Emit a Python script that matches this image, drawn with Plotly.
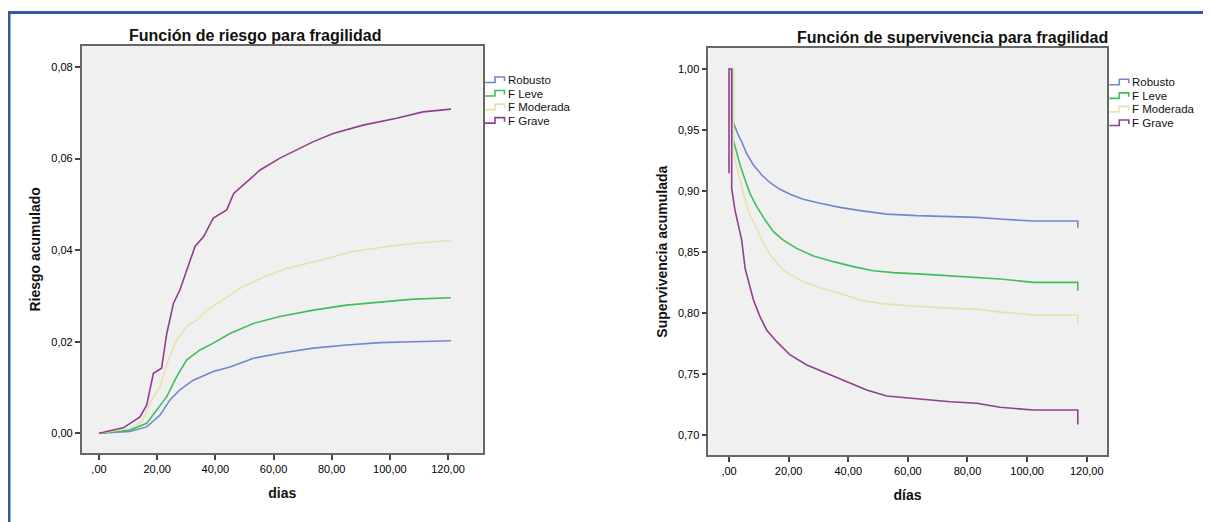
import plotly.graph_objects as go

series_names = ["Robusto", "F Leve", "F Moderada", "F Grave"]
series_colors = ["#7186CC", "#3FBF5C", "#E8E0AE", "#8E3F8E"]

# ---- Left: cumulative hazard ----
risk_days = {
    "Robusto": [0, 10.6, 16.4, 21.0, 24.4, 27.8, 32.4, 39.3, 45.0, 53.1, 62.2, 73.7, 85.1, 96.6, 108.0, 121.0],
    "F Leve": [0, 10.6, 16.4, 19.8, 23.3, 26.7, 30.1, 34.7, 39.3, 45.0, 53.1, 62.2, 73.7, 85.1, 96.6, 108.0, 121.0],
    "F Moderada": [0, 10.6, 14.7, 18.1, 21.0, 23.8, 26.7, 30.1, 33.6, 37.0, 41.6, 48.5, 55.4, 64.5, 76.0, 87.4, 98.9, 110.3, 121.0],
    "F Grave": [0, 8.35, 14.1, 16.4, 18.7, 21.5, 23.3, 25.6, 27.8, 30.1, 33.0, 35.9, 39.3, 43.9, 46.3, 50.8, 55.4, 62.2, 68.0, 73.7, 80.5, 90.8, 102.3, 111.4, 121.0],
}
risk_values = {
    "Robusto": [0, 0.0004, 0.0014, 0.0040, 0.0073, 0.0095, 0.0116, 0.0135, 0.0145, 0.0164, 0.0175, 0.0186, 0.0193, 0.0198, 0.0200, 0.0202],
    "F Leve": [0, 0.0007, 0.0022, 0.0051, 0.0080, 0.0124, 0.0160, 0.0182, 0.0197, 0.0218, 0.0240, 0.0255, 0.0269, 0.0280, 0.0287, 0.0293, 0.0296],
    "F Moderada": [0, 0.0011, 0.0025, 0.0073, 0.0102, 0.0160, 0.0204, 0.0233, 0.0247, 0.0269, 0.0287, 0.0317, 0.0338, 0.0360, 0.0378, 0.0397, 0.0408, 0.0416, 0.0421],
    "F Grave": [0, 0.0012, 0.0036, 0.0062, 0.0131, 0.0142, 0.0218, 0.0284, 0.0313, 0.0357, 0.0408, 0.0429, 0.0470, 0.0488, 0.0524, 0.0549, 0.0575, 0.0601, 0.0619, 0.0637, 0.0655, 0.0673, 0.0688, 0.0702, 0.0708],
}

# ---- Right: survival ----
surv_days = {
    "Robusto": [0, 0.9, 0.9, 2.0, 3.1, 4.25, 5.9, 8.2, 11.0, 13.8, 17.1, 20.5, 24.9, 30.5, 37.2, 44.0, 52.9, 63.0, 75.3, 83.1, 92.1, 102.1, 117.0, 117.0],
    "F Leve": [0, 1.45, 1.45, 2.6, 3.7, 5.4, 7.0, 9.3, 12.1, 14.9, 18.2, 22.7, 28.3, 35.0, 41.7, 48.4, 55.1, 66.3, 79.8, 90.9, 102.1, 117.0, 117.0],
    "F Moderada": [0, 1.45, 1.45, 2.6, 3.7, 5.4, 7.0, 9.3, 11.5, 14.3, 18.2, 23.8, 29.4, 37.2, 44.0, 50.7, 59.6, 70.8, 83.1, 92.1, 102.1, 117.0, 117.0],
    "F Grave": [0, 0, 0.9, 0.9, 2.0, 3.1, 4.25, 5.4, 6.5, 8.2, 10.4, 12.6, 16.0, 20.5, 26.1, 32.8, 39.5, 46.2, 52.9, 63.0, 74.2, 83.1, 90.9, 102.1, 117.0, 117.0],
}
surv_values = {
    "Robusto": [1.0, 1.0, 0.9596, 0.9527, 0.9459, 0.9404, 0.9309, 0.9213, 0.9131, 0.9068, 0.9014, 0.8973, 0.8932, 0.8899, 0.8866, 0.8839, 0.8811, 0.8798, 0.8790, 0.8784, 0.8768, 0.8754, 0.8754, 0.8699],
    "F Leve": [1.0, 1.0, 0.9418, 0.9309, 0.9213, 0.9090, 0.8981, 0.8872, 0.8762, 0.8667, 0.8598, 0.8530, 0.8467, 0.8421, 0.8380, 0.8347, 0.8331, 0.8317, 0.8298, 0.8279, 0.8251, 0.8251, 0.8183],
    "F Moderada": [1.0, 1.0, 0.9309, 0.9186, 0.9090, 0.8926, 0.8803, 0.8694, 0.8571, 0.8462, 0.8352, 0.8270, 0.8216, 0.8161, 0.8107, 0.8079, 0.8060, 0.8044, 0.8030, 0.8005, 0.7984, 0.7984, 0.7902],
    "F Grave": [0.9145, 1.0, 1.0, 0.9022, 0.8844, 0.8721, 0.8598, 0.8366, 0.8270, 0.8107, 0.7970, 0.7861, 0.7765, 0.7656, 0.7574, 0.7505, 0.7437, 0.7369, 0.7320, 0.7295, 0.7273, 0.7260, 0.7227, 0.7205, 0.7205, 0.7087],
}

risk_ticks = [0, 0.02, 0.04, 0.06, 0.08]
risk_ticktext = ["0,00", "0,02", "0,04", "0,06", "0,08"]
surv_ticks = [0.70, 0.75, 0.80, 0.85, 0.90, 0.95, 1.00]
surv_ticktext = ["0,70", "0,75", "0,80", "0,85", "0,90", "0,95", "1,00"]
day_ticks = [0, 20, 40, 60, 80, 100, 120]
day_ticktext = [",00", "20,00", "40,00", "60,00", "80,00", "100,00", "120,00"]

# page body has an 8px margin: figure sized to fill the rest of the window
OFF = 8
W, H = 1211 - OFF, 522 - OFF
FONT = "Liberation Sans, Arial, sans-serif"


def px_x(p):
    return (p - OFF) / W


def px_y(p):
    return 1 - (p - OFF) / H


fig = go.Figure()
for name, col in zip(series_names, series_colors):
    fig.add_trace(go.Scatter(x=risk_days[name], y=risk_values[name], mode="lines", name=name,
                             line=dict(color=col, width=1.6), xaxis="x", yaxis="y", showlegend=False))
for name, col in zip(series_names, series_colors):
    fig.add_trace(go.Scatter(x=surv_days[name], y=surv_values[name], mode="lines", name=name,
                             line=dict(color=col, width=1.6), xaxis="x2", yaxis="y2", showlegend=False))

axis_common = dict(showgrid=False, zeroline=False, showline=True, linecolor="#666666", linewidth=1.5,
                   mirror=True, ticks="outside", ticklen=5, tickwidth=1.5, tickcolor="#444444",
                   tickfont=dict(family=FONT, size=11, color="#000000"))

fig.update_layout(
    width=W, height=H,
    margin=dict(l=0, r=0, t=0, b=0),
    paper_bgcolor="white", plot_bgcolor="#F0F0F0",
    font=dict(family=FONT, color="#111111"),
    xaxis=dict(domain=[px_x(81.7), px_x(482.7)], range=[-5.95, 131.9], tickvals=day_ticks,
               ticktext=day_ticktext, anchor="y",
               title=dict(text="<b>dias</b>", font=dict(size=14), standoff=14), **axis_common),
    yaxis=dict(domain=[px_y(453), px_y(45.7)], range=[-0.0043, 0.08465], tickvals=risk_ticks,
               ticktext=risk_ticktext, anchor="x",
               title=dict(text="<b>Riesgo acumulado</b>", font=dict(size=14), standoff=7), **axis_common),
    xaxis2=dict(domain=[px_x(708.3), px_x(1106.7)], range=[-6.95, 126.7], tickvals=day_ticks,
                ticktext=day_ticktext, anchor="y2",
                title=dict(text="<b>días</b>", font=dict(size=14), standoff=14), **axis_common),
    yaxis2=dict(domain=[px_y(455), px_y(48.3)], range=[0.6836, 1.017], tickvals=surv_ticks,
                ticktext=surv_ticktext, anchor="x2",
                title=dict(text="<b>Supervivencia acumulada</b>", font=dict(size=14), standoff=7), **axis_common),
    showlegend=False,
)

fig.add_annotation(text="<b>Función de riesgo para fragilidad</b>", x=px_x(255), y=px_y(35.5),
                   xref="paper", yref="paper", showarrow=False, font=dict(size=16, family=FONT, color="#111111"),
                   xanchor="center", yanchor="middle")
fig.add_annotation(text="<b>Función de supervivencia para fragilidad</b>", x=px_x(952), y=px_y(37.5),
                   xref="paper", yref="paper", showarrow=False, font=dict(size=16, family=FONT, color="#111111"),
                   xanchor="center", yanchor="middle")

# custom legends with SPSS-like step glyphs
legend_boxes = [(485, 80.0), (1109.3, 82.3)]
row_gap = 13.55
for (lx, ly) in legend_boxes:
    for i, (name, col) in enumerate(zip(series_names, series_colors)):
        cy = ly + i * row_gap
        xs = [lx, lx + 10, lx + 10, lx + 19.5, lx + 19.5]
        ys = [cy + 2.5, cy + 2.5, cy - 3, cy - 3, cy + 1]
        path = "M " + " L ".join(f"{px_x(a):.5f},{px_y(b):.5f}" for a, b in zip(xs, ys))
        fig.add_shape(type="path", path=path, xref="paper", yref="paper",
                      line=dict(color=col, width=1.6))
        fig.add_annotation(text=name, x=px_x(lx + 21), y=px_y(cy), xref="paper", yref="paper",
                           showarrow=False, xanchor="left", yanchor="middle",
                           font=dict(size=11.5, family=FONT, color="#111111"))

# outer blue frame
fig.add_shape(type="line", xref="paper", yref="paper", x0=px_x(9), x1=1.0, y0=px_y(12.5), y1=px_y(12.5),
              line=dict(color="#3358A4", width=3))
fig.add_shape(type="line", xref="paper", yref="paper", x0=px_x(9), x1=px_x(9), y0=px_y(11), y1=0,
              line=dict(color="#3358A4", width=3))

fig.write_html("out.html")
